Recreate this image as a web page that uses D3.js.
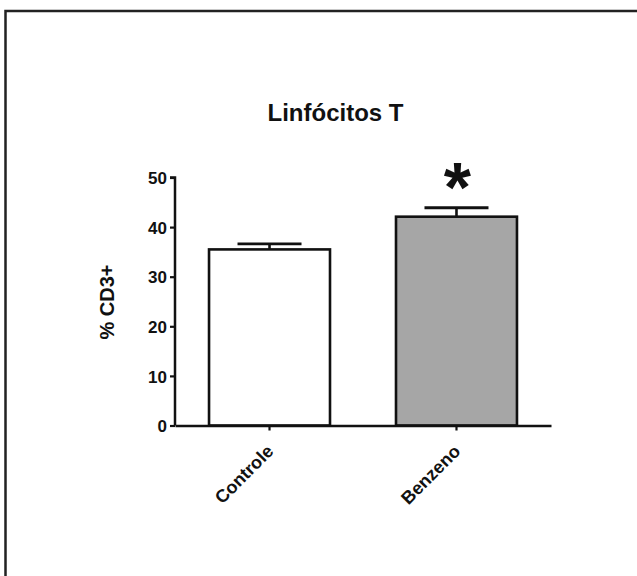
<!DOCTYPE html>
<html><head><meta charset="utf-8">
<script src="https://cdn.jsdelivr.net/npm/d3@7"></script>
<style>
html,body{margin:0;padding:0;background:#fff;}
svg{display:block;}
text{font-family:Arial,"Liberation Sans",sans-serif;font-weight:bold;fill:#111;}
</style></head>
<body>
<script>
const categories = ["Controle", "Benzeno"];
const means = [35.5, 42.1];
const errors = [1.1, 1.8];
const yTicks = [0, 10, 20, 30, 40, 50];
const significance = ["", "*"];
const title = "Linfócitos T";
const yLabel = "% CD3+";
const fills = ["#ffffff", "#a6a6a6"];

const W = 637, H = 576;
const svg = d3.select("body").append("svg").attr("width", W).attr("height", H);

// outer frame (only left and top edges visible)
svg.append("rect").attr("x", 5.5).attr("y", 11).attr("width", 800).attr("height", 800)
  .attr("fill", "none").attr("stroke", "#222").attr("stroke-width", 2.5);

const x0 = 175, x1 = 551, yBase = 425.5, yTop = 177.5;
const x = d3.scaleBand().domain(categories).range([x0, x1]).paddingInner(0.353).paddingOuter(0.182);
const y = d3.scaleLinear().domain([0, 50]).range([yBase, yTop]);

// bars
svg.selectAll("rect.bar").data(categories).join("rect").attr("class", "bar")
  .attr("x", d => x(d))
  .attr("y", (d, i) => y(means[i]))
  .attr("width", x.bandwidth())
  .attr("height", (d, i) => y(0) - y(means[i]))
  .attr("fill", (d, i) => fills[i])
  .attr("stroke", "#111").attr("stroke-width", 2.6);

// error bars (upper only)
const capW = 64;
categories.forEach((c, i) => {
  const cx = x(c) + x.bandwidth() / 2;
  svg.append("line").attr("x1", cx).attr("x2", cx)
    .attr("y1", y(means[i])).attr("y2", y(means[i] + errors[i]))
    .attr("stroke", "#111").attr("stroke-width", 2.6);
  svg.append("line").attr("x1", cx - capW / 2).attr("x2", cx + capW / 2)
    .attr("y1", y(means[i] + errors[i])).attr("y2", y(means[i] + errors[i]))
    .attr("stroke", "#111").attr("stroke-width", 2.8);
  if (significance[i]) {
    svg.append("text").attr("x", cx + 1).attr("y", y(means[i] + errors[i]) + 4)
      .attr("text-anchor", "middle").style("font-size", "70px").text(significance[i]);
  }
});

// y axis
const yAxis = svg.append("g").attr("transform", `translate(${x0},0)`)
  .call(d3.axisLeft(y).tickValues(yTicks).tickSize(5).tickPadding(3));
yAxis.select(".domain").attr("stroke", "#111").attr("stroke-width", 2.5).attr("d", `M0,${yBase}V${yTop}H-5`);
yAxis.selectAll(".tick line").attr("stroke", "#111").attr("stroke-width", 2.2);
yAxis.selectAll(".tick text").style("font-size", "17px").attr("fill", "#111").attr("dy", "0.36em");

// x axis
const xAxis = svg.append("g").attr("transform", `translate(0,${yBase})`)
  .call(d3.axisBottom(x).tickSize(5).tickSizeOuter(0).tickFormat(""));
xAxis.select(".domain").attr("stroke", "#111").attr("stroke-width", 2.5);
xAxis.selectAll(".tick line").attr("stroke", "#111").attr("stroke-width", 2.2);

// x category labels rotated
svg.selectAll("text.xl").data(categories).join("text").attr("class", "xl")
  .attr("text-anchor", "end")
  .attr("transform", d => `translate(${x(d) + x.bandwidth() / 2 + 5},${yBase + 27}) rotate(-45)`)
  .style("font-size", "18px")
  .text(d => d);

// y label
svg.append("text").attr("transform", `translate(114,302) rotate(-90)`)
  .attr("text-anchor", "middle").style("font-size", "20px").text(yLabel);

// title
svg.append("text").attr("x", 335.5).attr("y", 120.5).attr("text-anchor", "middle")
  .style("font-size", "24px").text(title);
</script>
</body></html>
